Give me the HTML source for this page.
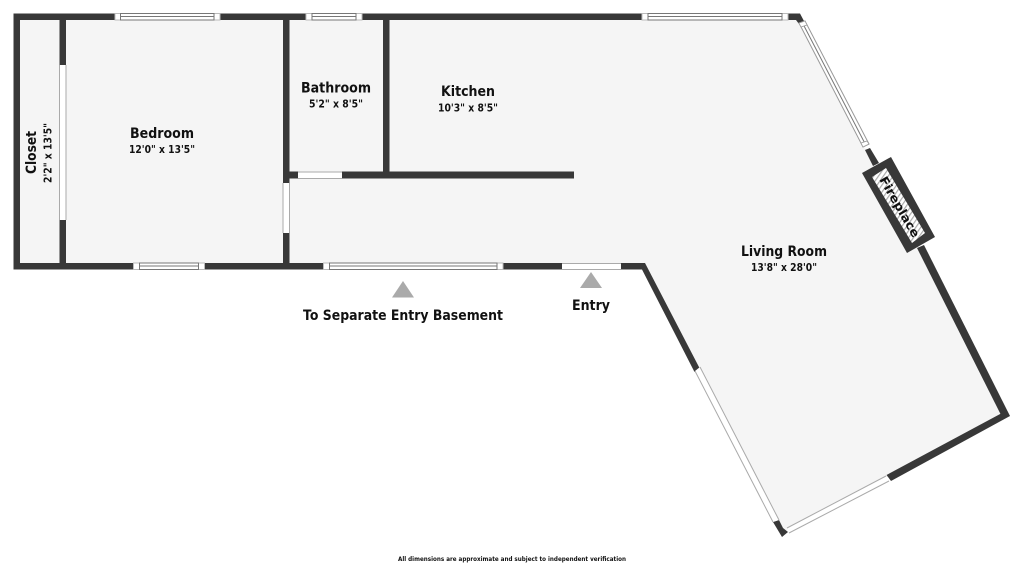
<!DOCTYPE html>
<html><head><meta charset="utf-8"><style>
html,body{margin:0;padding:0;background:#fff;width:1024px;height:565px;overflow:hidden}
svg{display:block}
text{font-family:"DejaVu Sans","Liberation Sans",sans-serif;font-weight:700;fill:#111}
.t{font-size:14px}.s{font-size:10.5px}
</style></head><body>
<svg width="1024" height="565" viewBox="0 0 1024 565" xmlns="http://www.w3.org/2000/svg">
<defs>
<pattern id="h" width="4" height="4" patternUnits="userSpaceOnUse" patternTransform="rotate(35)">
<rect width="4" height="4" fill="#fff"/><rect width="1.2" height="4" x="0" fill="#aaa"/>
</pattern>
</defs>
<!-- floor -->
<polygon fill="#f5f5f5" points="17,17 797,17 866,150 1006,414 783,532 696,370 643,266 17,266"/>
<!-- main walls -->
<g fill="#383838">
<rect x="13.5" y="13.5" width="101.5" height="6.5"/>
<rect x="220" y="13.5" width="86" height="6.5"/>
<rect x="362" y="13.5" width="280" height="6.5"/>
<polygon points="788,13.5 800,13.5 804.5,22 799,24 796,20 788,20"/>
<rect x="13.5" y="13.5" width="6.5" height="256"/>
<rect x="13.5" y="263" width="120" height="6.5"/>
<rect x="204.5" y="263" width="119" height="6.5"/>
<rect x="503" y="263" width="59" height="6.5"/>
<polygon points="621,263 645,263 699.5,368 694.5,372 642,269.5 621,269.5"/>
<rect x="59.5" y="20" width="6.5" height="45"/>
<rect x="59.5" y="220" width="6.5" height="43"/>
<rect x="283" y="20" width="6.5" height="163"/>
<rect x="283" y="233" width="6.5" height="30"/>
<rect x="383" y="20" width="6.5" height="152"/>
<rect x="289" y="171.5" width="9" height="7"/>
<rect x="342" y="171.5" width="232" height="7"/>
<polygon points="773,522 779,520 783,528 788,532 782,537"/>
<polygon points="886.5,475 1002,413 1010,416 891,481"/>
<polygon points="917,248 924,245 1010,416 1002,417"/>
<polygon points="865,150 870,148 879,163 873,166"/>
</g>
<!-- plain doors / openings -->
<g fill="#fff">
<rect x="59.5" y="65" width="6.5" height="155"/>
<rect x="283" y="183" width="6.5" height="50"/>
<rect x="298" y="172" width="44" height="6.5"/>
<rect x="562" y="263.5" width="59" height="6"/>
<polygon points="695,371 700,367 779,520 773,522"/>
<polygon points="787,528 886,476 889,481 789,533"/>
</g>
<g stroke="#aaa" stroke-width="1" fill="none">
<path d="M59.5 65V220M66 65V220M283 183V233M289.5 183V233M298 172H342M298 178.5H342M562 263.5H621M562 269.5H621"/>
<path d="M695 371L773 522M700 367L779 520M787 528L886 476M789 533L889 481"/>
</g>
<!-- windows -->
<g fill="#fff" stroke="#777" stroke-width="1">
<rect x="115" y="13.5" width="105" height="6.5" stroke="#bbb"/>
<rect x="120.5" y="13.5" width="93.5" height="3"/><rect x="120.5" y="16.5" width="93.5" height="3.5"/>
<rect x="306" y="13.5" width="56" height="6.5" stroke="#bbb"/>
<rect x="312" y="13.5" width="44" height="3"/><rect x="312" y="16.5" width="44" height="3.5"/>
<rect x="642" y="13.5" width="146" height="6.5" stroke="#bbb"/>
<rect x="648" y="13.5" width="134" height="3"/><rect x="648" y="16.5" width="134" height="3.5"/>
<rect x="133.5" y="263" width="71" height="6.5" stroke="#bbb"/>
<rect x="139.5" y="263" width="59" height="3"/><rect x="139.5" y="266" width="59" height="3.5"/>
<rect x="323.5" y="263" width="179.5" height="6.5" stroke="#bbb"/>
<rect x="329.5" y="263" width="167.5" height="3"/><rect x="329.5" y="266" width="167.5" height="3.5"/>
<polygon points="799,23 805,21 869,144 863,147" stroke="#999"/>
<line x1="802" y1="22" x2="866" y2="145.5"/>
</g>
<g fill="#fff" stroke="#999" stroke-width=".8">
<polygon points="799,23 805,21 807,25 801,27"/>
<polygon points="861,143 867,141 869,144 863,147"/>
</g>
<!-- fireplace -->
<polygon fill="#383838" points="862,173 891,157 935,237 907,253"/>
<polygon fill="url(#h)" points="872,177 886,168 925,233 912,243"/>
<!-- triangles -->
<polygon fill="#aaa" points="392,297.5 403,281 414,297.5"/>
<polygon fill="#aaa" points="580,288 591,272 602,288"/>
<!-- labels -->
<text class="t" x="130" y="138" textLength="64" lengthAdjust="spacingAndGlyphs">Bedroom</text>
<text class="s" x="129" y="153" textLength="66" lengthAdjust="spacingAndGlyphs">12'0" x 13'5"</text>
<text class="t" x="301" y="92.5" textLength="70" lengthAdjust="spacingAndGlyphs">Bathroom</text>
<text class="s" x="309" y="107.5" textLength="54" lengthAdjust="spacingAndGlyphs">5'2" x 8'5"</text>
<text class="t" x="441" y="96" textLength="54" lengthAdjust="spacingAndGlyphs">Kitchen</text>
<text class="s" x="438" y="111.5" textLength="60" lengthAdjust="spacingAndGlyphs">10'3" x 8'5"</text>
<text class="t" x="741" y="256" textLength="86" lengthAdjust="spacingAndGlyphs">Living Room</text>
<text class="s" x="751" y="271" textLength="66" lengthAdjust="spacingAndGlyphs">13'8" x 28'0"</text>
<text class="t" transform="translate(36,174) rotate(-90)" textLength="43" lengthAdjust="spacingAndGlyphs">Closet</text>
<text class="s" transform="translate(51.5,183) rotate(-90)" textLength="60" lengthAdjust="spacingAndGlyphs">2'2" x 13'5"</text>
<text class="t" x="572" y="310" textLength="38" lengthAdjust="spacingAndGlyphs">Entry</text>
<text class="t" x="303" y="320" textLength="200" lengthAdjust="spacingAndGlyphs">To Separate Entry Basement</text>
<text style="font-size:12px" transform="translate(879,179.5) rotate(60)" textLength="68" lengthAdjust="spacingAndGlyphs">Fireplace</text>
<text style="font-size:6.5px" x="398" y="561" textLength="228" lengthAdjust="spacingAndGlyphs">All dimensions are approximate and subject to independent verification</text>
</svg>
</body></html>
